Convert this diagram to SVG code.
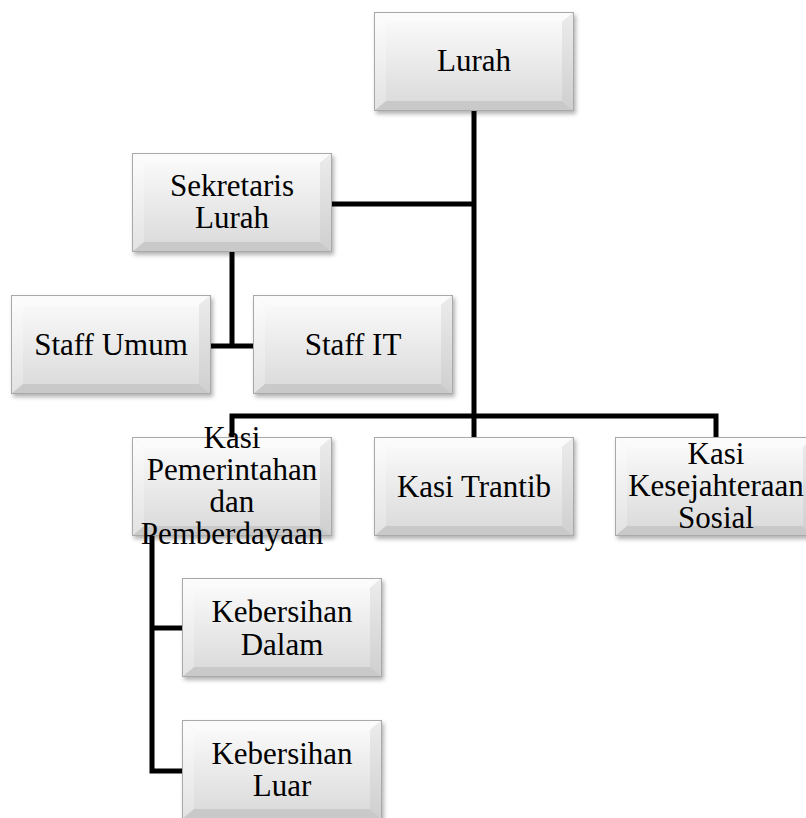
<svg xmlns="http://www.w3.org/2000/svg" xmlns:xlink="http://www.w3.org/1999/xlink" width="806" height="818" viewBox="0 0 806 818">
<style>
.t{font-family:"Liberation Serif","Times New Roman",serif;font-size:31px;fill:#000;text-anchor:middle}
.c{fill:none;stroke:#000;stroke-width:5;stroke-linecap:butt;stroke-linejoin:miter}
</style>
<defs>
<linearGradient id="gFace" x1="0" y1="0" x2="0" y2="1">
<stop offset="0" stop-color="#f9f9f9"/><stop offset="1" stop-color="#dcdcdc"/>
</linearGradient>
<linearGradient id="gLeft" x1="0" y1="0" x2="0" y2="1">
<stop offset="0" stop-color="#fdfdfd"/><stop offset="1" stop-color="#e2e2e2"/>
</linearGradient>
<linearGradient id="gRight" x1="0" y1="0" x2="0" y2="1">
<stop offset="0" stop-color="#ececec"/><stop offset="1" stop-color="#cfcfcf"/>
</linearGradient>
<filter id="sh" x="-10%" y="-10%" width="125%" height="130%">
<feDropShadow dx="2" dy="3" stdDeviation="2" flood-color="#000" flood-opacity="0.3"/>
</filter>
<g id="bx">
<rect x="0" y="0" width="200" height="99" fill="#e6e6e6" filter="url(#sh)"/>
<polygon points="0,0 200,0 188,10 12,10" fill="#fbfbfb"/>
<polygon points="0,0 12,10 12,89 0,99" fill="url(#gLeft)"/>
<polygon points="200,0 188,10 188,89 200,99" fill="url(#gRight)"/>
<polygon points="0,99 12,89 188,89 200,99" fill="#c9c9c9"/>
<rect x="12" y="10" width="176" height="79" fill="url(#gFace)"/>
<rect x="0.5" y="0.5" width="199" height="98" fill="none" stroke="#a9a9a9" stroke-width="1"/>
</g>
</defs>
<g id="connectors">
<polyline class="c" points="474,110 474,416"/>
<polyline class="c" points="332,204 474,204"/>
<polyline class="c" points="232,437 232,416 716,416 716,437"/>
<polyline class="c" points="474,416 474,437"/>
<polyline class="c" points="232,252 232,346"/>
<polyline class="c" points="211,346 253,346"/>
<polyline class="c" points="152,535 152,771 182,771"/>
<polyline class="c" points="152,628 182,628"/>
</g>
<g id="lurah"><use xlink:href="#bx" x="374" y="12"/><text class="t" x="474" y="71">Lurah</text></g>
<g id="sekretaris"><use xlink:href="#bx" x="132" y="153"/><text class="t" x="232" y="196">Sekretaris</text><text class="t" x="232" y="228">Lurah</text></g>
<g id="staff-umum"><use xlink:href="#bx" x="11" y="295"/><text class="t" x="111" y="355">Staff Umum</text></g>
<g id="staff-it"><use xlink:href="#bx" x="253" y="295"/><text class="t" x="353" y="355">Staff IT</text></g>
<g id="kasi-pemerintahan"><use xlink:href="#bx" x="132" y="437"/><text class="t" x="232" y="448">Kasi</text><text class="t" x="232" y="480">Pemerintahan</text><text class="t" x="232" y="512">dan</text><text class="t" x="232" y="544">Pemberdayaan</text></g>
<g id="kasi-trantib"><use xlink:href="#bx" x="374" y="437"/><text class="t" x="474" y="497">Kasi Trantib</text></g>
<g id="kasi-kesejahteraan"><use xlink:href="#bx" x="615" y="437"/><text class="t" x="716" y="464">Kasi</text><text class="t" x="716" y="496">Kesejahteraan</text><text class="t" x="716" y="528">Sosial</text></g>
<g id="kebersihan-dalam"><use xlink:href="#bx" x="182" y="578"/><text class="t" x="282" y="622">Kebersihan</text><text class="t" x="282" y="655">Dalam</text></g>
<g id="kebersihan-luar"><use xlink:href="#bx" x="182" y="720"/><text class="t" x="282" y="764">Kebersihan</text><text class="t" x="282" y="796">Luar</text></g>
</svg>
